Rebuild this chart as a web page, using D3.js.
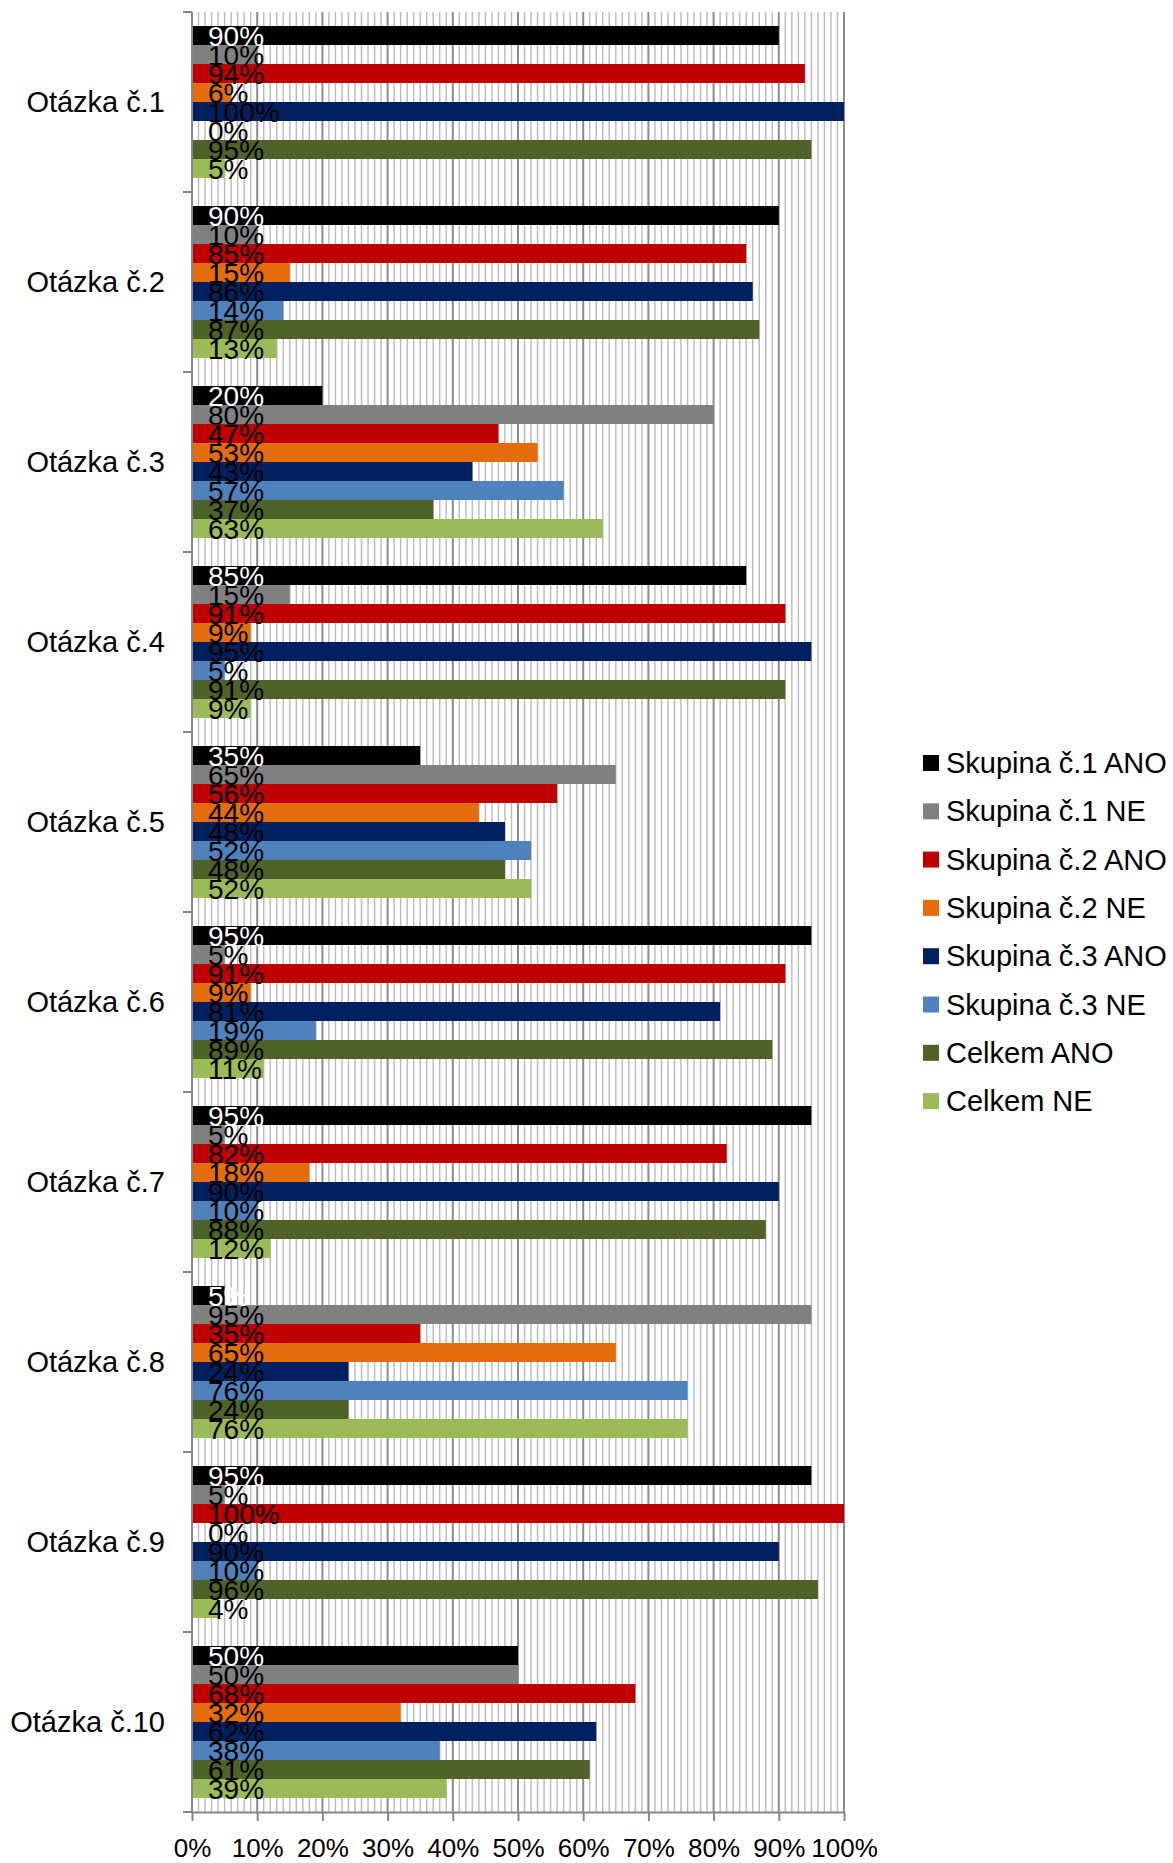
<!DOCTYPE html>
<html>
<head>
<meta charset="utf-8">
<script src="https://cdn.jsdelivr.net/npm/d3@7"></script>
<style>
  html, body { margin: 0; padding: 0; background: #fff; }
  text { font-family: "Liberation Sans", Arial, sans-serif; }
</style>
</head>
<body>
<svg id="chart" width="1173" height="1863"></svg>
<script>
const categories = ["Otázka č.1", "Otázka č.2", "Otázka č.3", "Otázka č.4", "Otázka č.5",
                    "Otázka č.6", "Otázka č.7", "Otázka č.8", "Otázka č.9", "Otázka č.10"];
const seriesNames = ["Skupina č.1 ANO", "Skupina č.1 NE", "Skupina č.2 ANO", "Skupina č.2 NE",
                     "Skupina č.3 ANO", "Skupina č.3 NE", "Celkem ANO", "Celkem NE"];
const s1Ano    = [90, 90, 20, 85, 35, 95, 95, 5, 95, 50];
const s1Ne     = [10, 10, 80, 15, 65, 5, 5, 95, 5, 50];
const s2Ano    = [94, 85, 47, 91, 56, 91, 82, 35, 100, 68];
const s2Ne     = [6, 15, 53, 9, 44, 9, 18, 65, 0, 32];
const s3Ano    = [100, 86, 43, 95, 48, 81, 90, 24, 90, 62];
const s3Ne     = [0, 14, 57, 5, 52, 19, 10, 76, 10, 38];
const celkemAno = [95, 87, 37, 91, 48, 89, 88, 24, 96, 61];
const celkemNe  = [5, 13, 63, 9, 52, 11, 12, 76, 4, 39];
const tickValues = [0, 10, 20, 30, 40, 50, 60, 70, 80, 90, 100];
const tickLabels = ["0%", "10%", "20%", "30%", "40%", "50%", "60%", "70%", "80%", "90%", "100%"];
const colors = ["#000000", "#808080", "#C00000", "#E46C0A", "#002060", "#4F81BD", "#4F6228", "#9BBB59"];
const labelColors = ["#ffffff", "#000000", "#000000", "#000000", "#000000", "#000000", "#000000", "#000000"];

const seriesValues = [s1Ano, s1Ne, s2Ano, s2Ne, s3Ano, s3Ne, celkemAno, celkemNe];

const svg = d3.select("#chart");
const plot = { left: 192, right: 844, top: 12, bottom: 1812 };

const x = d3.scaleLinear().domain([0, 100]).range([plot.left, plot.right]);
const y = d3.scaleBand().domain(categories).range([plot.top, plot.bottom]).padding(0);
const bandH = y.bandwidth();
const ySeries = d3.scaleBand().domain(seriesNames).range([14, bandH - 14]).padding(0);

// minor gridlines
const minor = d3.range(1, 101).filter(v => v % 10 !== 0);
svg.append("g").selectAll("line").data(minor).join("line")
  .attr("x1", d => x(d)).attr("x2", d => x(d))
  .attr("y1", plot.top).attr("y2", plot.bottom)
  .attr("stroke", "#bdbdbd").attr("stroke-width", 1.5);
// major gridlines
svg.append("g").selectAll("line").data(tickValues.slice(1)).join("line")
  .attr("x1", d => x(d)).attr("x2", d => x(d))
  .attr("y1", plot.top).attr("y2", plot.bottom)
  .attr("stroke", "#8c8c8c").attr("stroke-width", 2);

// flatten data
const flat = [];
categories.forEach((c, ci) => {
  seriesNames.forEach((s, si) => {
    flat.push({ cat: c, series: s, si: si, value: seriesValues[si][ci] });
  });
});

// bars
svg.append("g").selectAll("rect").data(flat).join("rect")
  .attr("x", x(0))
  .attr("y", d => y(d.cat) + ySeries(d.series))
  .attr("width", d => x(d.value) - x(0))
  .attr("height", ySeries.bandwidth())
  .attr("fill", d => colors[d.si]);

// axes
const xAxis = d3.axisBottom(x).tickValues(tickValues).tickFormat((d, i) => tickLabels[i])
  .tickSize(9).tickSizeOuter(0).tickPadding(18);
const gx = svg.append("g").attr("transform", `translate(0,${plot.bottom})`).call(xAxis);
gx.select(".domain").attr("stroke", "#868686").attr("stroke-width", 2);
gx.selectAll(".tick line").attr("stroke", "#868686").attr("stroke-width", 2);
gx.selectAll(".tick text").attr("font-size", 26).attr("fill", "#000")
  .attr("font-family", "Liberation Sans, Arial, sans-serif");

const catBounds = categories.map(c => y(c)).concat([plot.bottom]);
const gy = svg.append("g");
gy.append("line").attr("x1", x(0)).attr("x2", x(0)).attr("y1", plot.top).attr("y2", plot.bottom)
  .attr("stroke", "#868686").attr("stroke-width", 2);
gy.selectAll("line.tk").data(catBounds).join("line").attr("class", "tk")
  .attr("x1", x(0) - 9).attr("x2", x(0)).attr("y1", d => d).attr("y2", d => d)
  .attr("stroke", "#868686").attr("stroke-width", 2);
gy.selectAll("text").data(categories).join("text")
  .attr("x", 165).attr("y", d => y(d) + bandH / 2)
  .attr("dy", "0.35em").attr("text-anchor", "end")
  .attr("font-size", 29).attr("fill", "#000").text(d => d);

// data labels
svg.append("g").selectAll("text").data(flat).join("text")
  .attr("x", x(0) + 16)
  .attr("y", d => y(d.cat) + ySeries(d.series) + ySeries.bandwidth() / 2 + 10)
  .attr("font-size", 28)
  .attr("fill", d => labelColors[d.si])
  .text(d => d.value + "%");

// legend
const legend = svg.append("g").attr("transform", "translate(923,0)");
const items = legend.selectAll("g").data(seriesNames).join("g")
  .attr("transform", (d, i) => `translate(0,${763 + i * 48.3})`);
items.append("rect").attr("x", 0).attr("y", -8).attr("width", 16).attr("height", 16)
  .attr("fill", (d, i) => colors[i]);
items.append("text").attr("x", 23).attr("y", 0).attr("dy", "0.35em")
  .attr("font-size", 29).attr("fill", "#000").text(d => d);
</script>
</body>
</html>
